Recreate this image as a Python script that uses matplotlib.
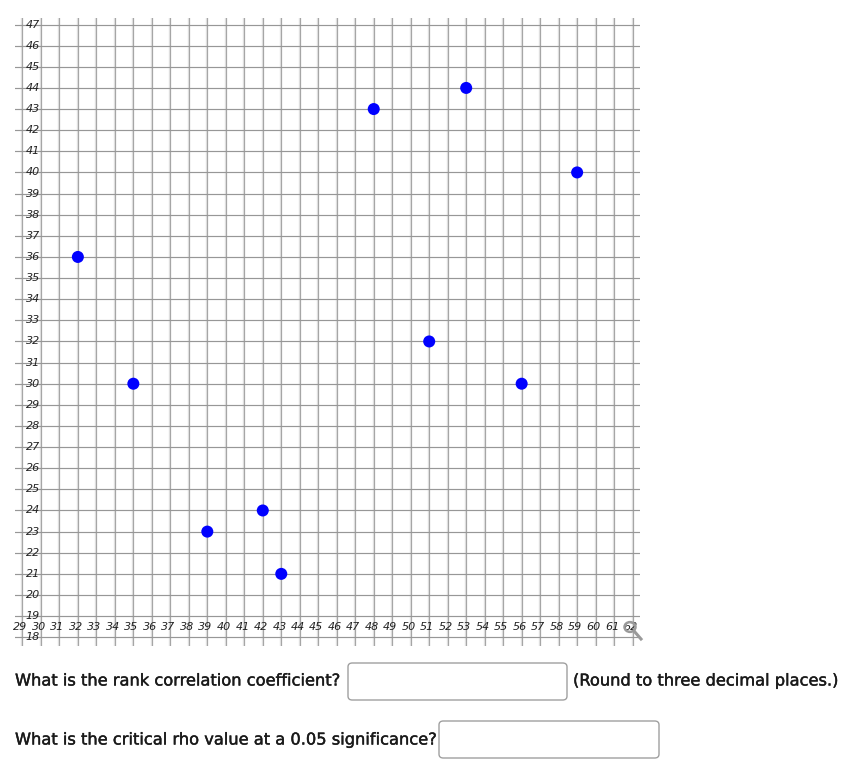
import matplotlib
matplotlib.use("Agg")
import matplotlib.pyplot as plt
import matplotlib.patheffects as pe
from matplotlib.patches import FancyBboxPatch, Circle
from matplotlib.lines import Line2D

# Paired observations
x_vals = [32, 35, 39, 42, 43, 48, 51, 53, 56, 59]
y_vals = [36, 30, 23, 24, 21, 43, 32, 44, 30, 40]

x_ticks = list(range(29, 63))
y_ticks = list(range(18, 48))

question_1 = "What is the rank correlation coefficient?"
note_1 = "(Round to three decimal places.)"
question_2 = "What is the critical rho value at a 0.05 significance?"

W, H = 863, 767
fig = plt.figure(figsize=(W / 100, H / 100), dpi=100)
fig.patch.set_facecolor("white")

ax = fig.add_axes([15 / W, 1 - 645.7 / H, (640 - 15) / W, (645.7 - 18.2) / H])
ax.set_xlim(28.6, 62.4)
ax.set_ylim(17.6, 47.3)
for s in ax.spines.values():
    s.set_visible(False)
ax.set_xticks([])
ax.set_yticks([])

# Grid: soft halo under each vertical line, thin darker horizontals
for xv in x_ticks:
    ax.axvline(xv, color="#e2e2e2", lw=1.7, zorder=1)
    ax.axvline(xv, color="#a6a6a6", lw=0.8, zorder=1.1)
for yv in y_ticks:
    ax.axhline(yv, color="#979797", lw=0.85, zorder=1.2)

# Tick labels along the axes
lab_kw = dict(fontsize=8, style="italic", color="#222222", family="DejaVu Sans", zorder=3)
for xv in x_ticks:
    ax.text(xv - 0.1, 18.5, str(xv), ha="center", va="center", **lab_kw)
for yv in y_ticks:
    ax.text(29.95, yv, str(yv), ha="right", va="center", **lab_kw)

# Data points
ax.scatter(x_vals, y_vals, s=75, color="#0000ff", zorder=4, edgecolors="none")

# Zoom icon
fx = lambda px: px / W
fy = lambda py: 1 - py / H
fig.add_artist(Circle((fx(630), fy(627)), 5.5 / W, transform=fig.transFigure,
                      fill=False, edgecolor="#9a9a9a", lw=1.8))
fig.add_artist(Line2D([fx(634), fx(641)], [fy(631), fy(639)], transform=fig.transFigure,
                      color="#9a9a9a", lw=2.2))

# Question text and answer boxes
txt_kw = dict(fontsize=11.7, color="#1a1a1a", family="DejaVu Sans", va="center",
              path_effects=[pe.withStroke(linewidth=0.3, foreground="#1a1a1a")])
fig.text(fx(15), fy(681), question_1, **txt_kw)
fig.text(fx(573), fy(681), note_1, **txt_kw)
fig.text(fx(15), fy(740), question_2, **txt_kw)


def answer_box(x0, y0, x1, y1):
    fig.add_artist(FancyBboxPatch((fx(x0), fy(y1)), (x1 - x0) / W, (y1 - y0) / H,
                                  boxstyle="round,pad=0,rounding_size=0.005",
                                  transform=fig.transFigure, facecolor="white",
                                  edgecolor="#a0a0a0", lw=1.0))


answer_box(348, 663, 567, 700)
answer_box(439, 721, 659, 758)

fig.savefig("out.png", dpi=100)
